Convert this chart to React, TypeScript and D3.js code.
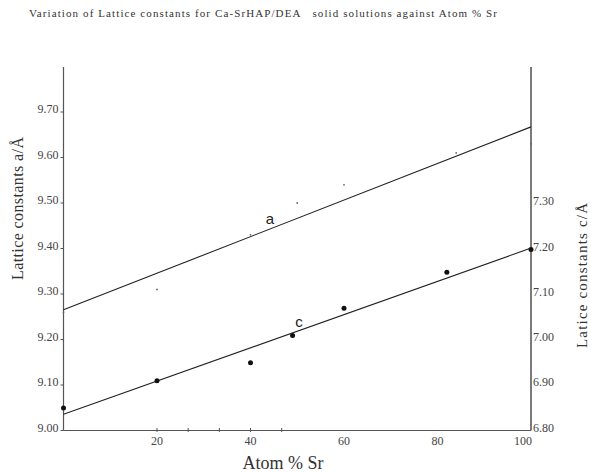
import React, { useEffect, useRef } from 'react';
import * as d3 from 'd3';

// Atom % Sr for each series
const atomA = [0, 20, 40, 50, 60, 84, 100];
const latticeA = [9.26, 9.31, 9.43, 9.5, 9.54, 9.61, 9.63];
const atomC = [0, 20, 40, 49, 60, 82, 100];
const latticeC = [6.85, 6.91, 6.95, 7.01, 7.07, 7.15, 7.2];

const aTicks = [9.0, 9.1, 9.2, 9.3, 9.4, 9.5, 9.6, 9.7];
const cTicks = [6.8, 6.9, 7.0, 7.1, 7.2, 7.3];
const xTickLabels = [20, 40, 60, 80, 100];
const xTickMarks = [20, 26.67, 33.33, 40, 46.67];

const title = 'Variation of Lattice constants for Ca-SrHAP/DEA   solid solutions against Atom % Sr';

function fit(xs: number[], ys: number[]) {
  const mx = d3.mean(xs) as number;
  const my = d3.mean(ys) as number;
  let sxy = 0;
  let sxx = 0;
  xs.forEach((x, i) => {
    sxy += (x - mx) * (ys[i] - my);
    sxx += (x - mx) * (x - mx);
  });
  const slope = sxy / sxx;
  return (x: number) => my + slope * (x - mx);
}

export default function App() {
  const ref = useRef<SVGSVGElement>(null);

  useEffect(() => {
    const width = 591;
    const height = 473;
    const left = 63.5;
    const right = 531;
    const top = 67;
    const bottom = 430.5;
    const serif = '"Liberation Serif", "Times New Roman", serif';
    const sans = '"Liberation Sans", Arial, sans-serif';

    const svg = d3.select(ref.current);
    svg.selectAll('*').remove();
    svg.attr('width', width).attr('height', height);

    const x = d3.scaleLinear().domain([0, 100]).range([left, right]);
    const yA = d3.scaleLinear().domain([9.0, 9.8]).range([bottom, bottom - 0.8 * 455]);
    const yC = d3.scaleLinear().domain([6.8, 7.6]).range([bottom, bottom - 0.8 * 452.5]);

    svg.append('text')
      .attr('x', 29)
      .attr('y', 17)
      .attr('textLength', 468)
      .style('font-family', serif)
      .style('font-size', '11px')
      .style('fill', '#333')
      .style('white-space', 'pre')
      .text(title);

    // axes frame
    const axisColor = '#555';
    svg.append('line')
      .attr('x1', left).attr('x2', left).attr('y1', top).attr('y2', bottom)
      .attr('stroke', axisColor).attr('stroke-width', 1.2);
    svg.append('line')
      .attr('x1', right).attr('x2', right).attr('y1', top).attr('y2', bottom)
      .attr('stroke', '#222').attr('stroke-width', 1.2);
    svg.append('line')
      .attr('x1', left).attr('x2', right).attr('y1', bottom).attr('y2', bottom)
      .attr('stroke', axisColor).attr('stroke-width', 1.2);

    // left ticks
    svg.selectAll('.aTick')
      .data(aTicks)
      .enter()
      .append('line')
      .attr('x1', left - 3).attr('x2', left)
      .attr('y1', d => yA(d)).attr('y2', d => yA(d))
      .attr('stroke', axisColor);
    svg.selectAll('.aLab')
      .data(aTicks)
      .enter()
      .append('text')
      .attr('x', left - 5)
      .attr('y', d => yA(d) + 1)
      .attr('text-anchor', 'end')
      .style('font-family', serif)
      .style('font-size', '12px')
      .style('fill', '#444')
      .text(d => d3.format('.2f')(d));

    // right labels
    svg.selectAll('.cLab')
      .data(cTicks)
      .enter()
      .append('text')
      .attr('x', right + 2)
      .attr('y', d => yC(d) + 1)
      .style('font-family', serif)
      .style('font-size', '12px')
      .style('fill', '#444')
      .text(d => d3.format('.2f')(d));

    // bottom ticks
    svg.selectAll('.xTick')
      .data(xTickMarks)
      .enter()
      .append('line')
      .attr('x1', d => x(d)).attr('x2', d => x(d))
      .attr('y1', bottom - 2.5).attr('y2', bottom + 1.5)
      .attr('stroke', axisColor);
    svg.selectAll('.xLab')
      .data(xTickLabels)
      .enter()
      .append('text')
      .attr('x', d => (d === 100 ? x(d) + 1 : x(d)))
      .attr('y', bottom + 14)
      .attr('text-anchor', d => (d === 100 ? 'end' : 'middle'))
      .style('font-family', serif)
      .style('font-size', '12px')
      .style('fill', '#444')
      .text(d => d);

    // axis titles
    svg.append('text')
      .attr('x', 283)
      .attr('y', 469)
      .attr('text-anchor', 'middle')
      .style('font-family', serif)
      .style('font-size', '18px')
      .style('fill', '#333')
      .text('Atom % Sr');
    svg.append('text')
      .attr('transform', 'translate(23,280) rotate(-90)')
      .attr('textLength', 143)
      .style('font-family', serif)
      .style('font-size', '16px')
      .style('fill', '#333')
      .text('Lattice constants a/Å');
    svg.append('text')
      .attr('transform', 'translate(587,348) rotate(-90)')
      .attr('textLength', 145)
      .style('font-family', serif)
      .style('font-size', '15px')
      .style('fill', '#333')
      .text('Latice constants c/Å');

    // fitted lines
    const fa = fit(atomA, latticeA);
    const fc = fit(atomC, latticeC);
    const line = d3.line<number>();
    svg.append('path')
      .attr('d', line([[x(0), yA(fa(0))], [x(100), yA(fa(100))]] as any))
      .attr('fill', 'none').attr('stroke', '#222').attr('stroke-width', 1.1);
    svg.append('path')
      .attr('d', line([[x(0), yC(fc(0))], [x(100), yC(fc(100))]] as any))
      .attr('fill', 'none').attr('stroke', '#222').attr('stroke-width', 1.1);

    // points
    svg.selectAll('.ptA')
      .data(atomA)
      .enter()
      .append('circle')
      .attr('cx', d => x(d))
      .attr('cy', (d, i) => yA(latticeA[i]))
      .attr('r', 0.9)
      .attr('fill', '#666');
    svg.selectAll('.ptC')
      .data(atomC)
      .enter()
      .append('circle')
      .attr('cx', d => x(d))
      .attr('cy', (d, i) => yC(latticeC[i]))
      .attr('r', 2.5)
      .attr('fill', '#111');

    svg.append('text')
      .attr('x', 270).attr('y', 224)
      .attr('text-anchor', 'middle')
      .style('font-family', sans)
      .style('font-size', '15px')
      .style('fill', '#222')
      .text('a');
    svg.append('text')
      .attr('x', 299).attr('y', 327)
      .attr('text-anchor', 'middle')
      .style('font-family', sans)
      .style('font-size', '15px')
      .style('fill', '#222')
      .text('c');
  }, []);

  return (
    <div style={{ position: 'absolute', left: 0, top: 0 }}>
      <svg ref={ref} style={{ display: 'block' }} />
    </div>
  );
}
